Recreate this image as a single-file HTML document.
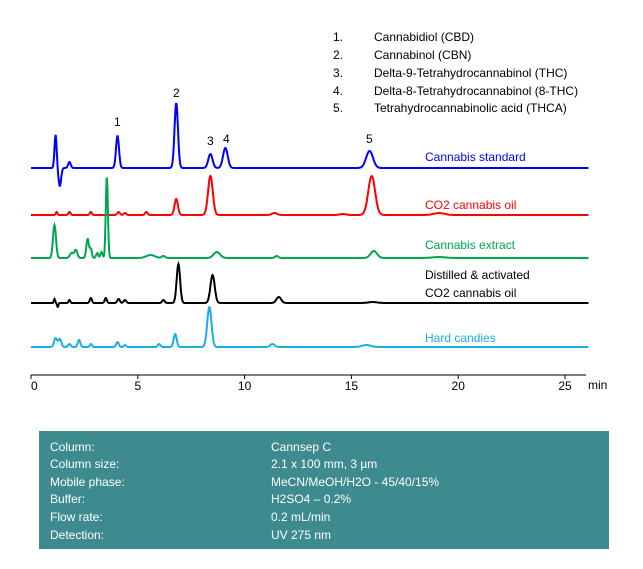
<!DOCTYPE html>
<html><head><meta charset="utf-8"><style>
body{margin:0;background:#fff;width:643px;height:569px;overflow:hidden;font-family:"Liberation Sans",sans-serif}
svg{position:absolute;left:0;top:0}
</style></head><body>
<svg id="chart" width="643" height="569" font-family="Liberation Sans, sans-serif">
<g font-size="12" fill="#000">
<text x="333" y="41">1.</text><text x="374" y="41">Cannabidiol (CBD)</text>
<text x="333" y="59">2.</text><text x="374" y="59">Cannabinol (CBN)</text>
<text x="333" y="77">3.</text><text x="374" y="77">Delta-9-Tetrahydrocannabinol (THC)</text>
<text x="333" y="95">4.</text><text x="374" y="95">Delta-8-Tetrahydrocannabinol (8-THC)</text>
<text x="333" y="112">5.</text><text x="374" y="112">Tetrahydrocannabinolic acid  (THCA)</text>
</g>
<g font-size="12" fill="#000">
<text x="114" y="126">1</text><text x="173" y="97">2</text><text x="207" y="145">3</text><text x="223" y="143">4</text><text x="366" y="143">5</text>
</g>
<g id="traces"></g>
<g font-size="12">
<text x="425" y="161" fill="#0000ff">Cannabis standard</text>
<text x="425" y="209" fill="#ff0000">CO2 cannabis oil</text>
<text x="425" y="249" fill="#00a64f">Cannabis extract</text>
<text x="425" y="279" fill="#000">Distilled &amp; activated</text>
<text x="425" y="297" fill="#000">CO2 cannabis oil</text>
<text x="425" y="342" fill="#19aee8">Hard candies</text>
</g>
<g id="axis"></g>
<rect x="39" y="431" width="570" height="118" fill="#3d8a8f"/>
<g font-size="12" fill="#fff">
<text x="50" y="451">Column:</text><text x="271" y="451">Cannsep C</text>
<text x="50" y="468">Column size:</text><text x="271" y="468">2.1 x 100  mm, 3 µm</text>
<text x="50" y="486">Mobile phase:</text><text x="271" y="486">MeCN/MeOH/H2O - 45/40/15%</text>
<text x="50" y="503">Buffer:</text><text x="271" y="503">H2SO4 – 0.2%</text>
<text x="50" y="521">Flow  rate:</text><text x="271" y="521">0.2 mL/min</text>
<text x="50" y="539">Detection:</text><text x="271" y="539">UV 275 nm</text>
</g>
</svg>
<script>
const ticks=[0,5,10,15,20,25];
const names=["cannabis-standard","co2-cannabis-oil","cannabis-extract","distilled-co2-oil","hard-candies"];
const colors=["#0000ff","#ff0000","#00a64f","#000000","#19aee8"];
const baselines=[168,215,258,303,347];
const tStd=[1.15,1.35,1.8,4.05,6.8,8.4,9.1,15.85];
const hStd=[33,-18,6,32,65,14,20,17];
const wStd=[0.05,0.06,0.06,0.07,0.08,0.1,0.11,0.16];
const tOil=[1.2,1.8,2.8,4.1,4.4,5.4,6.8,8.4,11.4,14.6,15.95,19.1];
const hOil=[3,3,3,3,2,3,16,39,2,1,39,2];
const wOil=[0.04,0.05,0.05,0.06,0.06,0.06,0.08,0.11,0.12,0.15,0.16,0.25];
const tExt=[1.1,1.9,2.1,2.65,2.8,3.1,3.3,3.55,5.6,6.2,8.7,11.5,16.05,19.1];
const hExt=[33,5,8,19,9,5,6,81,3,2,6,2,7,1];
const wExt=[0.07,0.08,0.07,0.06,0.05,0.05,0.05,0.05,0.2,0.08,0.15,0.08,0.15,0.3];
const tDis=[1.1,1.25,1.8,2.8,3.5,4.1,4.4,6.2,6.9,8.5,11.6,16];
const hDis=[4,-4,3,5,5,4,3,3,39,28,6,1];
const wDis=[0.03,0.03,0.04,0.05,0.05,0.06,0.06,0.06,0.08,0.1,0.11,0.2];
const tCan=[1.15,1.35,1.8,2.25,2.8,4.05,4.4,6.0,6.75,8.35,11.3,15.7];
const hCan=[9,8,3,7,3,5,2,3,13,40,3,2];
const wCan=[0.07,0.07,0.06,0.06,0.05,0.06,0.05,0.06,0.07,0.1,0.1,0.2];
const T=[tStd,tOil,tExt,tDis,tCan],H=[hStd,hOil,hExt,hDis,hCan],W=[wStd,wOil,wExt,wDis,wCan];
const x=t=>31+t*21.36;
const NS="http://www.w3.org/2000/svg";
const g=document.getElementById('traces');
for(let s=0;s<5;s++){
  let d="";
  for(let t=0;t<=26.1;t+=0.02){
    let v=0;
    for(let k=0;k<T[s].length;k++){const z=(t-T[s][k])/W[s][k];v+=H[s][k]*Math.exp(-0.5*z*z);}
    d+=(d?"L":"M")+x(t).toFixed(1)+" "+(baselines[s]-v).toFixed(1);
  }
  const p=document.createElementNS(NS,'path');
  p.setAttribute('d',d);p.setAttribute('fill','none');p.setAttribute('stroke',colors[s]);p.setAttribute('stroke-width','2');
  
  
  g.appendChild(p);
}
const ax=document.getElementById('axis');
let a=document.createElementNS(NS,'line');
a.setAttribute('x1',31);a.setAttribute('x2',586);a.setAttribute('y1',375);a.setAttribute('y2',375);a.setAttribute('stroke','#000');


ax.appendChild(a);
for(const v of ticks){
  const l=document.createElementNS(NS,'line');
  l.setAttribute('x1',x(v));l.setAttribute('x2',x(v));l.setAttribute('y1',375);l.setAttribute('y2',379);l.setAttribute('stroke','#000');
  
  
  ax.appendChild(l);
  const tx=document.createElementNS(NS,'text');
  tx.setAttribute('x',x(v));tx.setAttribute('y',390);tx.setAttribute('font-size','12');tx.setAttribute('text-anchor',v===0?'start':'middle');
  tx.textContent=v;
  
  
  ax.appendChild(tx);
}
const u=document.createElementNS(NS,'text');
u.setAttribute('x',588);u.setAttribute('y',389);u.setAttribute('font-size','12');u.textContent='min';


ax.appendChild(u);
</script>
</body></html>
